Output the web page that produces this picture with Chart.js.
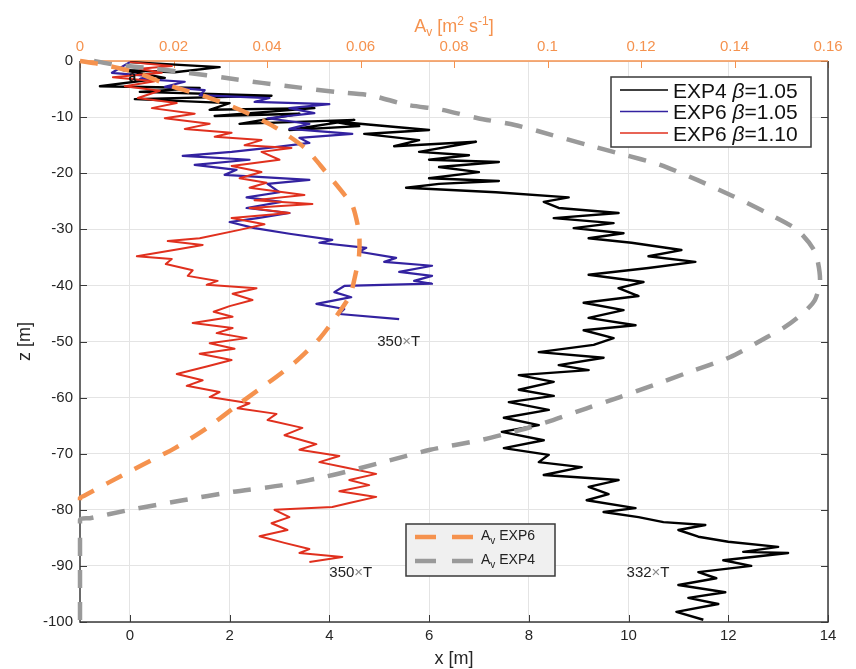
<!DOCTYPE html>
<html>
<head>
<meta charset="utf-8">
<script src="https://cdn.jsdelivr.net/npm/chart.js@4.4.1/dist/chart.umd.min.js"></script>
<style>
  html, body { margin: 0; padding: 0; background: #fff; }
  #wrap { width: 856px; height: 669px; }
</style>
</head>
<body>
<div id="wrap"><canvas id="chart" width="856" height="669"></canvas></div>
<script>
// --- tick values ---
const xTicks = [0, 2, 4, 6, 8, 10, 12, 14];
const zTicks = [0, -10, -20, -30, -40, -50, -60, -70, -80, -90, -100];
const avTicks = [0, 0.02, 0.04, 0.06, 0.08, 0.1, 0.12, 0.14, 0.16];

// --- EXP4 beta=1.05 trajectory (x [m], z [m]) ---
const exp4X = [0, 1.8, 0.9, -0.14, 0.7, -0.6, 1.4, 0.2, 2.84, 0.1,
  2.0, 1.6, 3.7, 1.7, 3.4, 2.2, 4.5, 3.2, 4.6, 4.0,
  6.0, 4.7, 5.8, 5.3, 6.94, 5.8, 6.8, 6.0, 7.4, 6.2,
  7.0, 6.0, 7.4, 6.2, 5.54, 7.34, 8.8, 8.3, 8.6, 9.8,
  8.5, 9.7, 8.9, 9.9, 9.2, 10.06, 11.06, 10.4, 11.34, 10.4,
  9.2, 10.3, 9.8, 10.2, 9.1, 9.9, 9.2, 10.14, 9.1, 9.7,
  9.3, 8.2, 9.5, 8.6, 9.2, 7.8, 8.5, 7.8, 8.5, 7.6,
  8.4, 7.5, 8.2, 7.46, 8.3, 7.5, 8.4, 8.2, 9.06, 8.3,
  9.8, 9.2, 9.6, 9.16, 10.14, 9.5, 10.2, 10.7, 11.54, 11.0,
  11.4, 12.0, 13.0, 12.3, 13.2, 11.9, 12.46, 11.4, 11.76, 11.0,
  11.94, 11.2, 11.8, 10.96, 11.5];
const exp4Z = [-0.2, -1.1, -2.0, -1.6, -3.0, -4.5, -4.8, -5.5, -6.2, -6.8,
  -7.5, -8.7, -8.4, -9.8, -9.4, -11.2, -10.5, -12.3, -11.6, -10.7,
  -12.3, -13.0, -14.1, -15.2, -14.4, -16.2, -16.8, -17.6, -18.0, -18.9,
  -19.8, -20.9, -21.4, -21.9, -22.6, -23.4, -24.3, -25.1, -26.2, -27.1,
  -28.0, -28.9, -29.8, -30.7, -31.6, -32.4, -33.7, -34.8, -35.8, -36.9,
  -38.1, -39.4, -40.5, -41.9, -43.1, -44.4, -45.8, -47.1, -48.0, -49.4,
  -50.6, -51.9, -52.9, -54.2, -55.1, -56.0, -57.2, -58.6, -59.7, -60.8,
  -62.2, -63.6, -64.9, -66.1, -67.6, -69.0, -70.2, -71.5, -72.4, -73.8,
  -74.7, -75.9, -77.2, -78.3, -79.7, -80.4, -81.3, -82.2, -82.7, -83.6,
  -84.8, -85.7, -86.6, -87.5, -87.7, -89.0, -90.0, -91.1, -92.2, -93.4,
  -94.7, -95.7, -96.8, -98.2, -99.6];

// --- EXP6 beta=1.05 trajectory ---
const exp6aX = [0, -0.36, 0.4, 0.2, 1.1, 0.7, 1.5, 1.4, 2.8, 2.5,
  4.0, 3.2, 3.7, 2.76, 3.6, 3.2, 4.46, 3.4, 3.6, 2.96,
  2.04, 1.06, 2.4, 1.3, 2.14, 1.9, 3.6, 2.76, 3.0, 2.34,
  3.04, 2.34, 3.2, 2.56, 2.0, 2.5, 3.2, 4.06, 3.8, 4.74,
  4.6, 5.34, 5.1, 6.06, 5.4, 6.06, 5.7, 6.06, 4.3, 4.1,
  4.44, 3.74, 4.3, 4.2, 5.4];
const exp6aZ = [-0.2, -2.1, -2.7, -3.2, -3.7, -4.6, -5.2, -6.1, -6.6, -7.3,
  -7.7, -8.4, -9.3, -10.2, -11.2, -12.1, -13.0, -13.7, -14.6, -15.3,
  -16.2, -16.9, -17.6, -18.5, -19.4, -20.3, -21.2, -21.9, -23.4, -24.3,
  -25.1, -26.2, -27.1, -28.0, -28.7, -29.8, -30.8, -31.9, -32.4, -33.3,
  -34.0, -35.1, -35.8, -36.5, -37.6, -38.3, -39.2, -39.7, -40.1, -41.2,
  -42.1, -43.3, -44.2, -45.1, -46.0];

// --- EXP6 beta=1.10 trajectory ---
const exp6bX = [0.0, 0.84, 0.2, 0.64, -0.34, 0.5, -0.1, 0.6, 0.16, 0.94,
  0.44, 1.3, 0.7, 1.6, 1.1, 2.04, 1.7, 2.64, 2.3, 3.24,
  2.64, 3.0, 2.04, 2.64, 2.2, 2.74, 2.4, 3.5, 2.5, 3.66,
  2.4, 3.2, 2.04, 2.7, 2.2, 1.4, 0.76, 1.46, 1.0, 0.14,
  0.84, 0.72, 1.26, 1.16, 1.76, 1.54, 2.54, 2.06, 2.46, 2.0,
  1.68, 2.06, 1.26, 2.06, 1.74, 2.34, 1.6, 2.1, 1.4, 2.04,
  1.56, 0.94, 1.46, 1.14, 1.8, 1.6, 2.4, 2.16, 2.94, 2.76,
  3.46, 3.1, 3.74, 3.4, 4.2, 3.8, 4.3, 4.94, 4.4, 4.8,
  4.2, 4.94, 4.4, 4.06, 2.9, 3.2, 2.84, 3.16, 2.6, 3.1,
  3.6, 3.4, 4.26, 3.6];
const exp6bZ = [-0.2, -0.9, -1.4, -2.1, -2.9, -3.6, -4.5, -5.3, -6.6, -7.5,
  -8.4, -9.4, -10.2, -11.2, -12.1, -12.8, -13.5, -14.1, -15.0, -15.5,
  -16.2, -17.6, -18.7, -19.8, -20.9, -21.7, -22.6, -23.9, -24.8, -25.5,
  -26.2, -27.1, -28.0, -29.1, -30.1, -31.6, -32.1, -32.8, -33.5, -34.8,
  -35.3, -36.2, -37.3, -38.3, -39.2, -39.9, -40.5, -41.5, -42.6, -43.7,
  -44.7, -45.6, -46.7, -47.6, -48.5, -49.4, -50.3, -51.3, -52.2, -53.3,
  -54.4, -55.8, -56.9, -57.9, -59.0, -59.9, -61.0, -61.9, -62.9, -64.0,
  -65.4, -66.7, -68.3, -69.3, -70.4, -71.5, -72.4, -73.6, -74.7, -75.6,
  -76.7, -77.7, -78.8, -79.5, -80.0, -81.3, -82.4, -83.6, -84.7, -85.9,
  -87.0, -87.7, -88.4, -89.3];

// --- Av profiles (top axis, m2/s) ---
const av6Z = [0, -0.5, -2.0, -4.5, -6.6, -8.7, -11.6, -15.5, -19.6, -24.4,
  -26.0, -30.7, -34.6, -38.5, -41.7, -45.3, -49.4, -53.7, -57.4, -61.0,
  -65.4, -69.0, -72.0, -75.2, -77.5, -77.9, -80];
const av6 = [0, 0.0039, 0.0118, 0.0197, 0.0278, 0.0342, 0.0413, 0.0481, 0.0524, 0.0571,
  0.0584, 0.0597, 0.0597, 0.0588, 0.0578, 0.0550, 0.0513, 0.0460, 0.0402, 0.0342,
  0.0272, 0.0203, 0.0133, 0.0060, 0.0009, 0, 0];
const av4Z = [0, -0.7, -1.3, -2.1, -3.0, -3.9, -4.7, -5.5, -6.1, -7.8,
  -8.7, -10.2, -11.4, -13.2, -15.0, -16.6, -18.5, -21.2, -24.1, -26.9,
  -30.1, -34.0, -39.0, -42.6, -44.9, -47.4, -49.2, -52.8, -55.6, -57.8,
  -59.9, -61.9, -64.0, -65.8, -67.6, -69.3, -71.5, -73.8, -75.6, -76.8,
  -78.3, -80.0, -81.5, -81.8, -100];
const av4 = [0.003, 0.0079, 0.0154, 0.0231, 0.0310, 0.0389, 0.0466, 0.0545, 0.0620, 0.0699,
  0.0774, 0.0851, 0.0930, 0.1010, 0.1087, 0.1159, 0.1241, 0.1320, 0.1397, 0.1465,
  0.1534, 0.1572, 0.1583, 0.1572, 0.1547, 0.1508, 0.1470, 0.1390, 0.1298, 0.1226,
  0.1155, 0.1084, 0.1012, 0.0941, 0.0856, 0.0749, 0.0648, 0.0541, 0.0434, 0.0327,
  0.0220, 0.0107, 0.0021, 0, 0];

// --- text annotations (x [m], z [m]) ---
const noteText = ['350', '350', '332'];
const noteX = [4.96, 4.0, 9.96];
const noteZ = [-49.9, -91.0, -91.0];

const FONT = "'Liberation Sans', Arial, Helvetica, sans-serif";
const ORANGE = '#f5924e';
const GREY = '#9a9a9a';
const AXIS = '#3a3a3a';
const TXT = '#262626';
const BLUE = '#3322a0';
const RED = '#e0301e';

function zip(xs, zs) {
    const n = Math.min(xs.length, zs.length);
    const out = [];
    for (let i = 0; i < n; i++) out.push({ x: xs[i], y: zs[i] });
    return out;
}

function drawRuns(ctx, runs, x, y, align) {
    let total = 0;
    runs.forEach(r => {
        ctx.font = r.font;
        r.w = ctx.measureText(r.t).width;
        total += r.w;
    });
    let cx = align === 'center' ? x - total / 2 : x;
    runs.forEach(r => {
        ctx.font = r.font;
        ctx.fillStyle = r.color || TXT;
        ctx.fillText(r.t, cx, y + (r.dy || 0));
        cx += r.w;
    });
}

const framePlugin = {
    id: 'frame',
    beforeDatasetsDraw(chart) {
        const { ctx, chartArea: a, scales } = chart;
        ctx.save();
        ctx.lineWidth = 1;
        ctx.strokeStyle = AXIS;
        ctx.beginPath();
        xTicks.forEach(v => {
            const p = Math.round(scales.x.getPixelForValue(v)) + 0.5;
            ctx.moveTo(p, a.bottom);
            ctx.lineTo(p, a.bottom - 7);
        });
        zTicks.forEach(v => {
            const p = Math.round(scales.y.getPixelForValue(v)) + 0.5;
            ctx.moveTo(a.left, p);
            ctx.lineTo(a.left + 7, p);
            ctx.moveTo(a.right, p);
            ctx.lineTo(a.right - 7, p);
        });
        ctx.stroke();
        ctx.strokeStyle = ORANGE;
        ctx.beginPath();
        avTicks.forEach(v => {
            const p = Math.round(scales.xAv.getPixelForValue(v)) + 0.5;
            ctx.moveTo(p, a.top);
            ctx.lineTo(p, a.top + 7);
        });
        ctx.stroke();

        ctx.lineWidth = 1.5;
        ctx.strokeStyle = AXIS;
        ctx.beginPath();
        ctx.moveTo(a.left, a.top);
        ctx.lineTo(a.left, a.bottom);
        ctx.lineTo(a.right, a.bottom);
        ctx.lineTo(a.right, a.top);
        ctx.stroke();
        ctx.strokeStyle = ORANGE;
        ctx.beginPath();
        ctx.moveTo(a.left, a.top);
        ctx.lineTo(a.right, a.top);
        ctx.stroke();
        ctx.restore();
    },
    afterDatasetsDraw(chart) {
        const { ctx, chartArea: a, scales } = chart;
        ctx.save();
        ctx.textBaseline = 'alphabetic';

        // axis titles
        const big = '18px ' + FONT, small = '12px ' + FONT;
        drawRuns(ctx, [
            { t: 'A', font: big, color: ORANGE },
            { t: 'v', font: small, dy: 4, color: ORANGE },
            { t: ' [m', font: big, color: ORANGE },
            { t: '2', font: small, dy: -7, color: ORANGE },
            { t: ' s', font: big, color: ORANGE },
            { t: '-1', font: small, dy: -7, color: ORANGE },
            { t: ']', font: big, color: ORANGE }
        ], (a.left + a.right) / 2, 32, 'center');
        ctx.font = big;
        ctx.fillStyle = TXT;
        ctx.textAlign = 'center';
        ctx.fillText('x [m]', (a.left + a.right) / 2, 664);
        ctx.save();
        ctx.translate(30, (a.top + a.bottom) / 2);
        ctx.rotate(-Math.PI / 2);
        ctx.fillText('z [m]', 0, 0);
        ctx.restore();
        ctx.textAlign = 'left';

        // annotations
        noteText.forEach((t, i) => {
            const px = scales.x.getPixelForValue(noteX[i]);
            const py = scales.y.getPixelForValue(noteZ[i]) + 5;
            drawRuns(ctx, [
                { t: t, font: '15px ' + FONT, color: '#222' },
                { t: '\u00d7', font: '15px ' + FONT, color: '#888' },
                { t: 'T', font: '15px ' + FONT, color: '#222' }
            ], px, py, 'left');
        });
        ctx.font = 'bold 14px ' + FONT;
        ctx.fillStyle = '#111';
        ctx.textAlign = 'center';
        ctx.fillText('a', scales.x.getPixelForValue(0.05), scales.y.getPixelForValue(-3.5));
        ctx.textAlign = 'left';

        // legend 1 (trajectories)
        ctx.fillStyle = '#fff';
        ctx.fillRect(611, 77, 200, 70);
        ctx.lineWidth = 1.5;
        ctx.strokeStyle = AXIS;
        ctx.strokeRect(611, 77, 200, 70);
        const rows = [
            { c: '#000', a: 'EXP4 ', b: '=1.05' },
            { c: BLUE, a: 'EXP6 ', b: '=1.05' },
            { c: RED, a: 'EXP6 ', b: '=1.10' }
        ];
        rows.forEach((r, i) => {
            const yy = 90 + i * 21.5;
            ctx.strokeStyle = r.c;
            ctx.lineWidth = 1.5;
            ctx.beginPath();
            ctx.moveTo(620, yy);
            ctx.lineTo(668, yy);
            ctx.stroke();
            drawRuns(ctx, [
                { t: r.a, font: '21px ' + FONT, color: '#111' },
                { t: '\u03b2', font: 'italic 21px ' + FONT, color: '#111' },
                { t: r.b, font: '21px ' + FONT, color: '#111' }
            ], 673, yy + 7.5, 'left');
        });

        // legend 2 (Av profiles)
        ctx.fillStyle = '#f0f0f0';
        ctx.fillRect(406, 524, 149, 52);
        ctx.strokeStyle = AXIS;
        ctx.lineWidth = 1.5;
        ctx.strokeRect(406, 524, 149, 52);
        [[ORANGE, 'EXP6'], [GREY, 'EXP4']].forEach((r, i) => {
            const yy = 537 + i * 24;
            ctx.strokeStyle = r[0];
            ctx.lineWidth = 4.5;
            ctx.setLineDash([21, 16]);
            ctx.beginPath();
            ctx.moveTo(415, yy);
            ctx.lineTo(473, yy);
            ctx.stroke();
            ctx.setLineDash([]);
            drawRuns(ctx, [
                { t: 'A', font: '14px ' + FONT, color: '#222' },
                { t: 'v', font: '10px ' + FONT, dy: 4, color: '#222' },
                { t: ' ' + r[1], font: '14px ' + FONT, color: '#222' }
            ], 481, yy + 3, 'left');
        });
        ctx.restore();
    }
};

const tickFont = { family: FONT, size: 15 };

new Chart(document.getElementById('chart'), {
    type: 'scatter',
    data: {
        datasets: [
            {
                label: 'Av EXP6', data: zip(av6, av6Z), xAxisID: 'xAv', yAxisID: 'y',
                showLine: true, borderColor: ORANGE, borderWidth: 4.5, borderDash: [18, 14],
                pointRadius: 0, tension: 0.25, clip: 6
            },
            {
                label: 'Av EXP4', data: zip(av4, av4Z), xAxisID: 'xAv', yAxisID: 'y',
                showLine: true, borderColor: GREY, borderWidth: 4.5, borderDash: [18, 14],
                pointRadius: 0, tension: 0.25, clip: 6
            },
            {
                label: 'EXP6 β=1.10', data: zip(exp6bX, exp6bZ), xAxisID: 'x', yAxisID: 'y',
                showLine: true, borderColor: RED, borderWidth: 2, borderJoinStyle: 'round',
                pointRadius: 0, tension: 0
            },
            {
                label: 'EXP6 β=1.05', data: zip(exp6aX, exp6aZ), xAxisID: 'x', yAxisID: 'y',
                showLine: true, borderColor: BLUE, borderWidth: 2.2, borderJoinStyle: 'round',
                pointRadius: 0, tension: 0
            },
            {
                label: 'EXP4 β=1.05', data: zip(exp4X, exp4Z), xAxisID: 'x', yAxisID: 'y',
                showLine: true, borderColor: '#000', borderWidth: 2.4, borderJoinStyle: 'round',
                pointRadius: 0, tension: 0
            }
        ]
    },
    options: {
        responsive: false,
        animation: false,
        events: [],
        layout: { padding: { left: 0, right: 28, top: 0, bottom: 0 } },
        plugins: { legend: { display: false }, tooltip: { enabled: false } },
        scales: {
            x: {
                type: 'linear', position: 'bottom', min: -1, max: 14,
                afterBuildTicks: s => { s.ticks = xTicks.map(v => ({ value: v })); },
                afterFit: s => { s.height = 47; },
                grid: { color: '#e4e4e4', drawTicks: false },
                border: { display: false },
                ticks: { color: TXT, font: tickFont, padding: 5, maxRotation: 0, callback: v => String(v) }
            },
            xAv: {
                type: 'linear', position: 'top', min: 0, max: 0.16,
                afterBuildTicks: s => { s.ticks = avTicks.map(v => ({ value: v })); },
                afterFit: s => { s.height = 61; },
                grid: { display: false, drawTicks: false },
                border: { display: false },
                ticks: { color: ORANGE, font: tickFont, padding: 5, maxRotation: 0, callback: v => String(v) }
            },
            y: {
                type: 'linear', position: 'left', min: -100, max: 0,
                afterBuildTicks: s => { s.ticks = zTicks.map(v => ({ value: v })); },
                afterFit: s => { s.width = 80; },
                grid: { color: '#e4e4e4', drawTicks: false },
                border: { display: false },
                ticks: { color: TXT, font: tickFont, padding: 7, callback: v => String(v) }
            }
        }
    },
    plugins: [framePlugin]
});
</script>
</body>
</html>
